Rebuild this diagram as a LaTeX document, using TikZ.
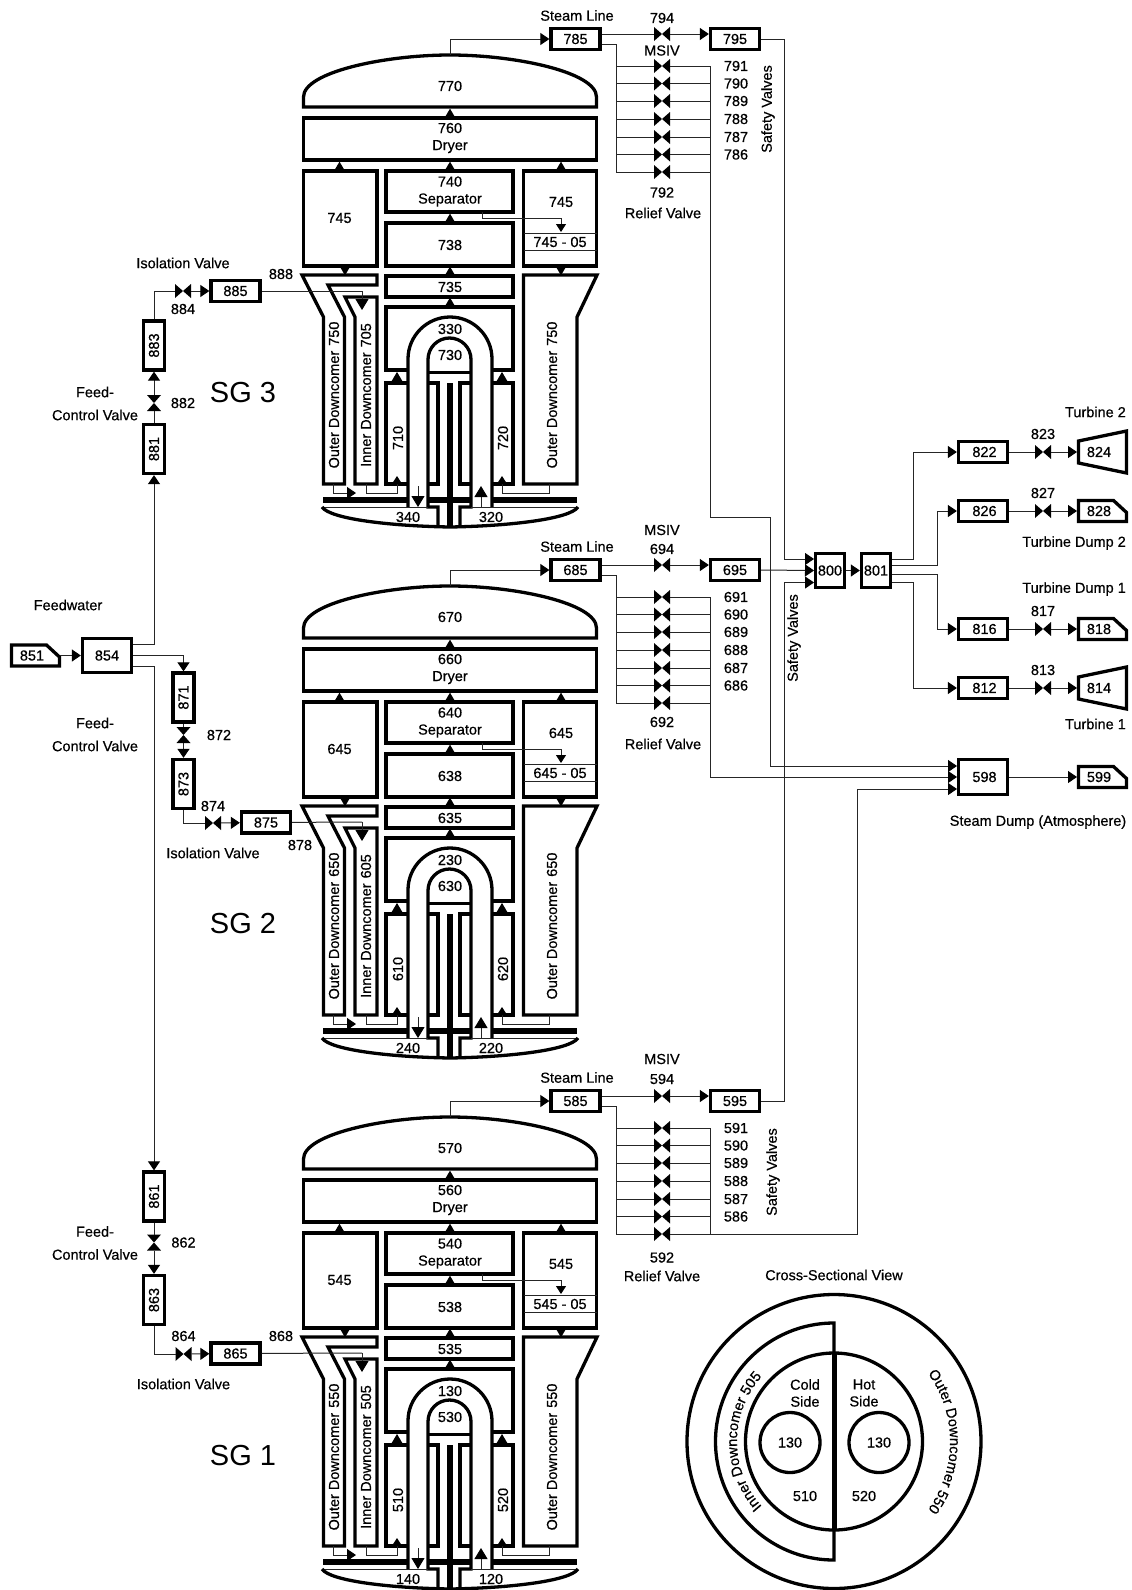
\documentclass[tikz,border=0pt]{standalone}
\usepackage{fontspec}
\setmainfont{Liberation Sans}[UprightFeatures={FakeBold=0.5}]
\newfontfamily\titlefont{Liberation Sans}
\usetikzlibrary{arrows.meta,decorations.text}

\newcommand{\labelfont}{\fontsize{14.5}{17}\selectfont}
\colorlet{pipe line}{black!85}
\def\outerring{(834,1441.5) circle (147)}
\def\middlering{(834,1441.5) circle (88.5)}
\def\coldtube{(790,1442.5) circle (30)}
\def\hottube{(879,1442.5) circle (30)}
\tikzset{wall/.style={draw=black, line width=3.3pt, line join=miter},
    pipe/.style={draw=pipe line, line width=1pt},
    flow/.style={pipe, -{Triangle[length=9pt,width=12pt,color=black,fill=black]}},
    flowt/.style={flow, shorten >=1.5pt},
    smallflow/.style={pipe, -{Triangle[length=8pt,width=10pt,color=black,fill=black]}},
    bigflow/.style={pipe, -{Triangle[length=11pt,width=13pt,color=black,fill=black]}},
    unitbox/.style={draw=black, line width=3.3pt, minimum width=49pt, minimum height=21pt, inner sep=0pt},
    standbox/.style={unitbox, rotate=90},
    termbox/.style={minimum width=48pt, minimum height=21pt, inner sep=0pt, outer sep=0pt},
    valvex/.style={minimum width=16pt, minimum height=14pt, inner sep=0pt, outer sep=0pt,
        path picture={\fill (path picture bounding box.north west) -- (path picture bounding box.south east)
        -- (path picture bounding box.north east) -- (path picture bounding box.south west) -- cycle;}},
    valvey/.style={minimum width=14pt, minimum height=16pt, inner sep=0pt, outer sep=0pt,
        path picture={\fill (path picture bounding box.north west) -- (path picture bounding box.north east)
        -- (path picture bounding box.south west) -- (path picture bounding box.south east) -- cycle;}}}

\newcommand{\tipup}[3][5.5]{\fill (#2,#3) ++(-#1,0) -- ++(#1,-1.7*#1) -- ++(#1,1.7*#1) -- cycle;}
\newcommand{\tipdown}[3][5.5]{\fill (#2,#3) ++(-#1,0) -- ++(#1,1.7*#1) -- ++(#1,-1.7*#1) -- cycle;}
\newcommand{\dumpbox}[4]{%
    \node[termbox] (#1) at (#2,#3) {#4\hspace*{7pt}};
    \draw[wall] (#1.south west) -- (#1.north west) -- ([xshift=-13pt]#1.north east)
    -- ([yshift=-12pt]#1.north east) -- (#1.south east) -- cycle;}
\newcommand{\turbinebox}[4]{%
    \node[termbox, minimum height=22pt] (#1) at (#2,#3) {#4\hspace*{7pt}};
    \draw[wall] (#1.south west) -- (#1.north west) -- ([yshift=10pt]#1.north east)
    -- ([yshift=-10pt]#1.south east) -- cycle;}

% One steam generator: prefix, tube number, shift
\newcommand{\sgunit}[3]{%
\begin{scope}[yshift=#3]
    % Dome, dryer, separator
    \draw[wall] (303.5,107) -- (303.5,97) .. controls (303.5,72) and (385,55) .. (450,55)
    .. controls (515,55) and (596.5,72) .. (596.5,97) -- (596.5,107) -- cycle;
    \coordinate (dome#1) at (450,55);
    \draw[wall] (303.5,118) rectangle (596.5,160);
    \draw[wall] (303.5,171) rectangle (377,266);
    \draw[wall] (386,171) rectangle (513,212);
    \draw[wall] (386,223) rectangle (513,266);
    \draw[wall] (523.5,171) rectangle (596.5,266);
    \draw[pipe] (523.5,233) -- (596.5,233);
    \draw[pipe] (523.5,250) -- (596.5,250);
    \draw[wall] (386,276) rectangle (513,297);
    \node (t#170) at (450,86) {#170};
    \node[align=center] (t#160) at (450,138) {#160\\Dryer};
    \node (t#1451) at (339.5,218) {#145};
    \node[align=center] (t#140) at (450,191.5) {#140\\Separator};
    \node (t#138) at (450,245) {#138};
    \node (t#1452) at (561,202) {#145};
    \node (t#14505) at (560,242) {#145 - 05};
    \node (t#135) at (450,287) {#135};
    % Downcomers
    \draw[wall] (302,275) -- (377,275) -- (377,285) -- (328,285) -- (344.5,317) -- (344.5,484)
    -- (323.5,484) -- (323.5,317) -- cycle;
    \draw[wall] (345,297) -- (377,297) -- (377,484) -- (355,484) -- (355,317) -- cycle;
    \draw[wall] (523.5,275) -- (597,275) -- (577,317) -- (577,484) -- (523.5,484) -- cycle;
    \node[rotate=90] (t#1501) at (334,395) {Outer Downcomer\hspace{5pt}#150};
    \node[rotate=90] (t#105) at (366,395) {Inner Downcomer\hspace{5pt}#105};
    \node[rotate=90] (t#1502) at (552,395) {Outer Downcomer\hspace{5pt}#150};
    % Tube bundle
    \draw[wall] (407.5,370) -- (386,370) -- (386,307) -- (513,307) -- (513,370) -- (492.5,370);
    \draw[wall] (407.5,383) -- (386,383) -- (386,484) -- (407.5,484);
    \draw[wall] (492.5,383) -- (513,383) -- (513,484) -- (492.5,484);
    \draw[wall] (408,507) -- (408,359) arc (180:360:42) -- (492,507);
    \draw[wall] (438,527) -- (438,507) -- (428,507) -- (428,359.5) arc (180:360:21.5) -- (471,507) -- (460,507) -- (460,527);
    \draw[wall] (428,372.5) -- (471,372.5);
    \draw[wall] (428,383) -- (438,383) -- (438,484) -- (428,484);
    \draw[wall] (471,383) -- (460,383) -- (460,484) -- (471,484);
    \fill (447,383) rectangle (453,527);
    \fill (323,497) rectangle (407,503);
    \fill (428,497) rectangle (472,503);
    \fill (493,497) rectangle (577,503);
    \draw[pipe] (322,507) -- (428,507);
    \draw[pipe] (471,507) -- (578,507);
    \draw[wall] (322,507) .. controls (330,519) and (390,526) .. (450,527)
    .. controls (510,526) and (570,519) .. (578,507);
    \node (t#130) at (450,355) {#130};
    \node (t#230) at (450,329) {#230};
    \node[rotate=90] (t#110) at (398,438) {#110};
    \node[rotate=90] (t#120) at (503,438) {#120};
    \node (t#240) at (408,517) {#240};
    \node (t#220) at (491,517) {#220};
    % Small flow marks
    \tipup{450}{118}
    \tipup{339.5}{171}
    \tipup{450}{171}
    \tipup{561}{171}
    \tipup{450}{223}
    \tipup{450}{276}
    \tipup{450}{307}
    \tipdown{345}{266}
    \tipdown{561}{266}
    \tipup[6.5]{397}{383}
    \tipup[6.5]{502}{383}
    \draw[smallflow] (482,212) -- (482,218) -- (561,218) -- (561,232);
    \draw[flow] (333,484) -- (333,493) -- (356,493);
    \draw[smallflow] (366,484) -- (366,493) -- (397,493) -- (397,476);
    \draw[smallflow] (549,484) -- (549,493) -- (502,493) -- (502,476);
    \draw[bigflow] (418,486) -- (418,507);
    \draw[bigflow] (481,507) -- (481,486);
    \coordinate (inlet#1) at (362,291);
    \draw[bigflow] (inlet#1) -- ++(0,19);
    % Steam line and valves
    \node[unitbox] (b#185) at (575.5,39) {#185};
    \node[unitbox] (b#195) at (735,39) {#195};
    \node[valvex] (v#194) at (662,34) {};
    \node (t#1sl) at (577,15.5) {Steam Line};
    \draw[flow] (dome#1) |- (b#185.west);
    \draw[pipe] (b#185.east |- v#194) -- (v#194);
    \draw[flow] (v#194) -- (v#194 -| b#195.west);
    \coordinate (tap#1) at (616,44);
    \coordinate (bus#1) at (710,66);
    \foreach \n/\y in {91/66,90/83.5,89/101,88/119,87/137,86/154.5,92/172}{
        \node[valvex] (v#1\n) at (662,\y) {};
        \draw[pipe] (tap#1 |- v#1\n) -- (v#1\n);
        \draw[pipe] (v#1\n) -- (v#1\n -| bus#1);
    }
    \foreach \n/\y in {91/66,90/83.5,89/101,88/119,87/137,86/154.5}{
        \node (t#1\n) at (736,\y) {#1\n};
    }
    \draw[pipe] (b#185.east |- tap#1) -- (tap#1) -- (tap#1 |- v#192);
    \draw[pipe] (bus#1) -- (bus#1 |- v#192);
\end{scope}}

\begin{document}
\begin{tikzpicture}[x=1pt, y=-1pt, font=\labelfont, inner sep=0pt]
    \path[fill=white, use as bounding box] (0,0) rectangle (1132,1590);

    \sgunit{7}{3}{0pt}
    \sgunit{6}{2}{-531pt}
    \sgunit{5}{1}{-1062pt}

    % Labels of the steam lines
    \node (t794) at (662,18) {794};
    \node (t7msiv) at (662,50.5) {MSIV};
    \node (t792) at (662,192.5) {792};
    \node (t7rv) at (663,213) {Relief Valve};
    \node[rotate=90] (t7sv) at (768,109) {Safety Valves};
    \node (t6msiv) at (662,530) {MSIV};
    \node (t694) at (662,549) {694};
    \node (t692) at (662,722) {692};
    \node (t6rv) at (663,744) {Relief Valve};
    \node[rotate=90] (t6sv) at (794,638) {Safety Valves};
    \node (t5msiv) at (662,1059) {MSIV};
    \node (t594) at (662,1079) {594};
    \node (t592) at (662,1257.5) {592};
    \node (t5rv) at (662,1276) {Relief Valve};
    \node[rotate=90] (t5sv) at (773,1172) {Safety Valves};

    % Header boxes
    \node[unitbox, minimum width=29pt, minimum height=34pt] (b800) at (830,570.5) {800};
    \node[unitbox, minimum width=29pt, minimum height=34pt] (b801) at (876,570.5) {801};
    \node[unitbox, minimum height=35pt] (b598) at (983,777) {\hspace*{3pt}598};
    \coordinate (in800a) at (814,559);
    \coordinate (in800b) at (814,570.5);
    \coordinate (in800c) at (814,582.5);
    \coordinate (in598a) at (957,766);
    \coordinate (in598b) at (957,777);
    \coordinate (in598c) at (957,789);
    \draw[flow] (b795.east) -- (784,39) |- (in800a);
    \draw[flow] (b695.east) -- (in800b);
    \draw[flow] (b595.east) -- (784,1101) |- (in800c);
    \draw[flow] (bus7) |- (770,517) |- (in598a);
    \draw[flow] (bus6) |- (in598b);
    \draw[pipe] (bus5) -- (bus5 |- v592);
    \draw[flow] (bus5 |- v592) -- (857,1234) |- (in598c);
    \draw[flow] (b800) -- (b801);

    % Turbine side
    \node[unitbox] (b822) at (983,452) {\hspace*{3pt}822};
    \node[unitbox] (b826) at (983,511) {\hspace*{3pt}826};
    \node[unitbox] (b816) at (983,629) {\hspace*{3pt}816};
    \node[unitbox] (b812) at (983,688) {\hspace*{3pt}812};
    \node[valvex] (v823) at (1043,452) {};
    \node[valvex] (v827) at (1043,511) {};
    \node[valvex] (v817) at (1043,629) {};
    \node[valvex] (v813) at (1043,688) {};
    \turbinebox{t824}{1102.5}{452}{824}
    \dumpbox{t828}{1102.5}{511}{828}
    \dumpbox{t818}{1102.5}{629}{818}
    \turbinebox{t814}{1102.5}{688}{814}
    \dumpbox{t599}{1102.5}{777}{599}
    \draw[flow] ([yshift=11.5pt]b801.east) -- (913,559) |- (b822.west);
    \draw[flow] ([yshift=5pt]b801.east) -- (937,565.5) |- (b826.west);
    \draw[flow] ([yshift=-3.5pt]b801.east) -- (937,574) |- (b816.west);
    \draw[flow] ([yshift=-11.5pt]b801.east) -- (913,582) |- (b812.west);
    \foreach \a/\b/\c in {822/823/824,826/827/828,816/817/818,812/813/814}{
        \draw[pipe] (b\a) -- (v\b);
        \draw[flowt] (v\b) -- (t\c);
    }
    \draw[flowt] (b598) -- (t599);
    \node (t823) at (1043,434) {823};
    \node (t827) at (1043,493) {827};
    \node (t817) at (1043,611) {817};
    \node (t813) at (1043,670) {813};
    \node[anchor=east] (tt2) at (1126,412) {Turbine 2};
    \node[anchor=east] (tt1) at (1126,724) {Turbine 1};
    \node[anchor=east] (td2) at (1126,543) {Turbine Dump 2};
    \node[anchor=east] (td1) at (1126,589) {Turbine Dump 1};
    \node (tsd) at (1038,822) {Steam Dump (Atmosphere)};

    % Feedwater
    \node[unitbox, minimum height=34pt] (b854) at (107,655.5) {854};
    \dumpbox{t851}{35.5}{655.5}{851}
    \draw[flow] (t851) -- (b854);
    \node (tfw) at (68,605) {Feedwater};

    % Loop 3
    \node[standbox] (b881) at (154,449) {881};
    \node[standbox] (b883) at (154,345.5) {883};
    \node[valvey] (v882) at (154,403) {};
    \node[valvex] (v884) at (183,291) {};
    \node[unitbox] (b885) at (235.5,291) {885};
    \draw[flow] ([yshift=11.5pt]b854.east) -| (b881);
    \draw[pipe] (b881) -- (v882);
    \draw[flow] (v882) -- (b883);
    \draw[pipe] (b883) |- (v884);
    \draw[flow] (v884) -- (b885);
    \draw[pipe] (b885) -- (inlet7);
    \node (t882) at (183,403) {882};
    \node (t884) at (183,309) {884};
    \node (t888) at (281,274) {888};
    \node (t3iv) at (183,263) {Isolation Valve};
    \node[align=center] (t3fc) at (95,403.5) {Feed-\\[6pt]Control Valve};
    \node (tsg3) at (243,393) {\titlefont\fontsize{29}{32}\selectfont SG 3};

    % Loop 2
    \node[standbox] (b871) at (183.5,697.5) {871};
    \node[standbox] (b873) at (183.5,784) {873};
    \node[valvey] (v872) at (183.5,735) {};
    \node[valvex] (v874) at (213,823) {};
    \node[unitbox] (b875) at (266,822.5) {875};
    \draw[flow] (b854.east) -| (b871);
    \draw[pipe] (b871) -- (v872);
    \draw[flow] (v872) -- (b873);
    \draw[pipe] (b873) |- (v874);
    \draw[flow] (v874) -- (b875);
    \draw[pipe] (b875) -- (inlet6);
    \node (t872) at (219,735) {872};
    \node (t874) at (213,806) {874};
    \node (t878) at (300,845) {878};
    \node (t2iv) at (213,853) {Isolation Valve};
    \node[align=center] (t2fc) at (95,734.5) {Feed-\\[6pt]Control Valve};
    \node (tsg2) at (243,924) {\titlefont\fontsize{29}{32}\selectfont SG 2};

    % Loop 1
    \node[standbox] (b861) at (154,1196.5) {861};
    \node[standbox] (b863) at (154,1300) {863};
    \node[valvey] (v862) at (154,1242.5) {};
    \node[valvex] (v864) at (183.5,1354) {};
    \node[unitbox] (b865) at (235.5,1353.5) {865};
    \draw[flow] ([yshift=-10.5pt]b854.east) -| (b861);
    \draw[pipe] (b861) -- (v862);
    \draw[flow] (v862) -- (b863);
    \draw[pipe] (b863) |- (v864);
    \draw[flow] (v864) -- (b865);
    \draw[pipe] (b865) -- (inlet5);
    \node (t862) at (183.5,1242.5) {862};
    \node (t864) at (183.5,1336) {864};
    \node (t868) at (281,1336) {868};
    \node (t1iv) at (183.5,1384) {Isolation Valve};
    \node[align=center] (t1fc) at (95,1243) {Feed-\\[6pt]Control Valve};
    \node (tsg1) at (243,1455) {\titlefont\fontsize{29}{32}\selectfont SG 1};

    % Cross section
    \node (tcs) at (834,1275) {Cross-Sectional View};
    \draw[wall] \outerring;
    \draw[wall] (834,1323) -- (834,1560) arc (90:270:118.5) -- cycle;
    \draw[wall] \middlering;
    \draw[wall] \coldtube;
    \draw[wall] \hottube;
    \fill (831.5,1353) rectangle (836.5,1530);
    \node (tc1) at (790,1442.5) {130};
    \node (tc2) at (879,1442.5) {130};
    \node[align=center] (tcold) at (805,1393) {Cold\\Side};
    \node[align=center] (thot) at (864,1393) {Hot\\Side};
    \node (tc510) at (805,1496) {510};
    \node (tc520) at (864,1496) {520};
    \path[decorate, decoration={text along path, text align=center,
        text={|\labelfont|Inner Downcomer 505}}]
        (834,1441.5) ++(-223:97) arc (-223:-137:97);
    \path[decorate, decoration={text along path, text align=center,
        text={|\labelfont|Outer Downcomer 550}}]
        (834,1441.5) ++(-36:116) arc (-36:36:116);
\end{tikzpicture}
\end{document}
